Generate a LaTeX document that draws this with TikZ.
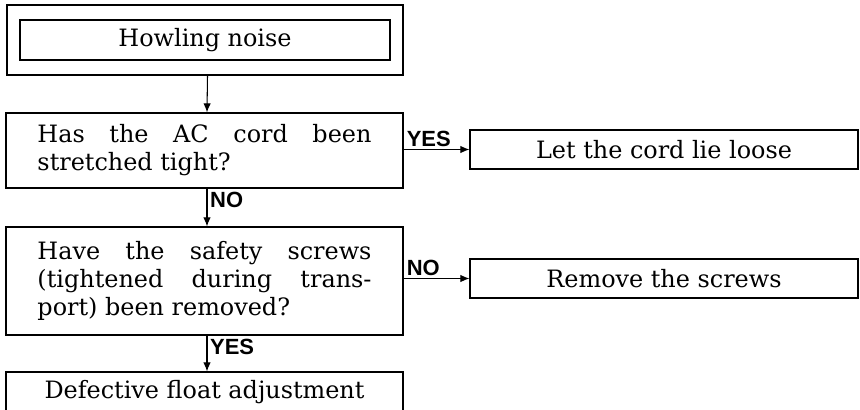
\documentclass[tikz,border=0pt]{standalone}
\usepackage{fontspec}
\setmainfont{DejaVu Serif}
\newfontfamily\lblfont{Liberation Sans}
\usetikzlibrary{arrows.meta}
\begin{document}
\begin{tikzpicture}[
x=0.2mm, y=-0.2mm,
font=\fontsize{13.6}{16}\selectfont,
block/.style={draw, rectangle, line width=0.7pt, minimum width=79.4mm, inner sep=0pt},
action/.style={draw, rectangle, line width=0.7pt, minimum width=77.6mm, minimum height=7.8mm, inner sep=0pt},
question/.style={block, text width=66.8mm, align=justify},
lbl/.style={font=\lblfont\bfseries\fontsize{12.5}{13}\selectfont, inner sep=1.5pt},
arrow/.style={-{Latex[length=1.8mm,width=1.5mm]}, line width=0.6pt}
]
\useasboundingbox (0,0) rectangle (860,409);
\clip (0,0) rectangle (860,409);
\node[block, minimum width=79.2mm, minimum height=14mm] (noiseframe) at (205,40) {};
\node[block, minimum width=74mm, minimum height=8mm] (noise) at (205,40) {Howling noise};
\node[question, minimum height=15mm] (cord) at (204.5,150.5) {Has the AC cord been\linebreak stretched tight?};
\node[action] (loose) at (664,149.5) {Let the cord lie loose};
\node[question, minimum height=21.6mm] (screws) at (204.5,281) {Have the safety screws\linebreak (tightened during trans-\linebreak port) been removed?};
\node[action] (remove) at (664,278.5) {Remove the screws};
\node[block, minimum height=8mm] (float) at (204.5,392) {Defective float adjustment};
\draw[arrow] ([xshift=0.5mm]noiseframe.south) -- ([xshift=0.5mm]cord.north);
\draw[arrow] (cord.east |- loose) -- node[lbl, pos=0, anchor=south west] {YES} (loose);
\draw[arrow] ([xshift=0.5mm]cord.south) -- node[lbl, pos=0, anchor=north west] {NO} ([xshift=0.5mm]screws.north);
\draw[arrow] (screws.east |- remove) -- node[lbl, pos=0, anchor=south west] {NO} (remove);
\draw[arrow] ([xshift=0.5mm]screws.south) -- node[lbl, pos=0, anchor=north west] {YES} ([xshift=0.5mm]float.north);
\end{tikzpicture}
\end{document}
